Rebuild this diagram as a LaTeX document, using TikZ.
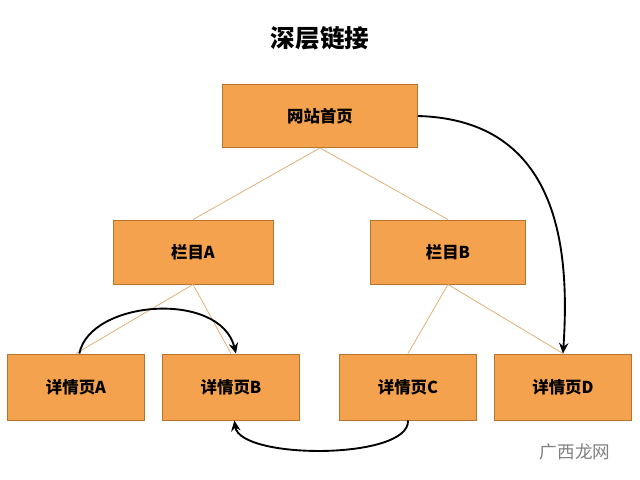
\documentclass[tikz,border=0pt]{standalone}
\usepackage{fontspec}
\setmainfont{Noto Sans CJK SC}
\usetikzlibrary{arrows.meta}
\definecolor{boxfill}{HTML}{F4A24E}
\definecolor{boxline}{HTML}{B8742F}
\definecolor{treeline}{HTML}{E0B27A}
\begin{document}
\begin{tikzpicture}[x=0.03cm,y=-0.03cm,
	page/.style={draw=boxline, fill=boxfill, line width=0.8pt, font=\bfseries\fontsize{14}{16}\selectfont},
	link/.style={draw=treeline, line width=0.7pt},
	jump/.style={line width=1.6pt, -{Stealth[length=9pt,width=8pt]}}]

	\useasboundingbox (0,0) rectangle (640,480);

	% ---- title
	\node[font=\bfseries\fontsize{21}{24}\selectfont] (title) at (320,38) {深层链接};

	% ---- pages
	\node[page, minimum width=5.85cm, minimum height=1.89cm] (home) at (320,116) {网站首页};
	\node[page, minimum width=4.8cm, minimum height=1.92cm] (colA) at (193,252) {栏目A};
	\node[page, minimum width=4.65cm, minimum height=1.92cm] (colB) at (448,252) {栏目B};

	\foreach \name/\x/\txt in {detA/76/A, detB/231/B, detC/408/C, detD/563/D} {
		\node[page, minimum width=4.1cm, minimum height=1.98cm] (\name) at (\x,387) {详情页\txt};
	}

	% ---- tree
	\draw[link] (home.south) -- (colA.north);
	\draw[link] (home.south) -- (colB.north);
	\draw[link] (colA.south) -- (detA.north);
	\draw[link] (colA.south) -- (detB.north);
	\draw[link] (colB.south) -- (detC.north);
	\draw[link] (colB.south) -- (detD.north);

	% ---- deep links
	\draw[jump] (home.east) .. controls (560,120) and (570,250) .. (detD.north);
	\draw[jump] ([xshift=0.1cm]detA.north) .. controls (90,300) and (220,290) .. ([xshift=0.15cm]detB.north);
	\draw[jump] (detC.south) .. controls (410,460) and (240,460) .. ([xshift=0.1cm]detB.south);

	% ---- watermark
	\node[text=gray, font=\fontsize{15}{17}\selectfont] (mark) at (575,452) {广西龙网};

\end{tikzpicture}
\end{document}
